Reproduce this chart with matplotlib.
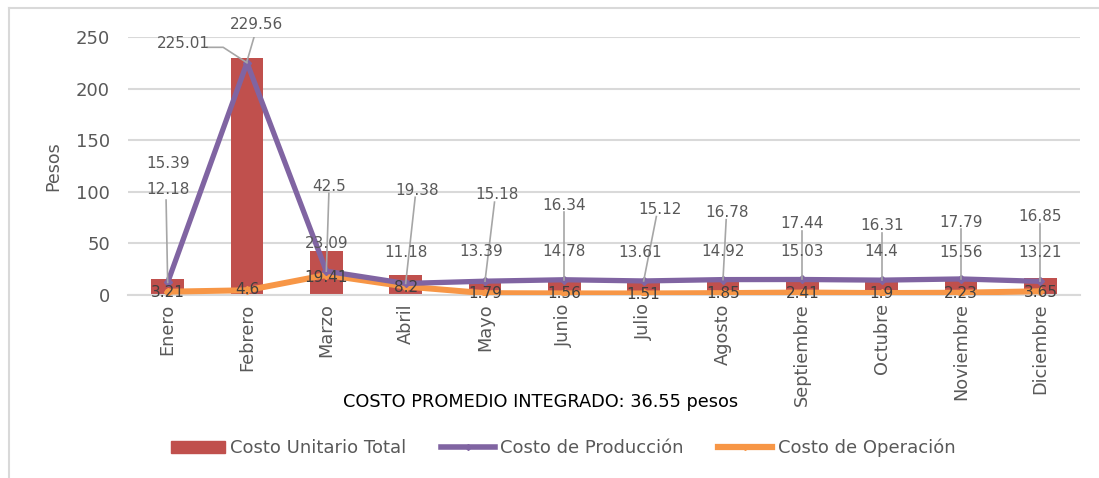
import matplotlib
matplotlib.use("Agg")
import matplotlib.pyplot as plt
from matplotlib.lines import Line2D
import numpy as np

plt.rcParams['font.family'] = ['DejaVu Sans']

months = ["Enero", "Febrero", "Marzo", "Abril", "Mayo", "Junio", "Julio",
          "Agosto", "Septiembre", "Octubre", "Noviembre", "Diciembre"]
costo_total = [15.39, 229.56, 42.5, 19.38, 15.18, 16.34, 15.12, 16.78, 17.44, 16.31, 17.79, 16.85]
costo_produccion = [12.18, 225.01, 23.09, 11.18, 13.39, 14.78, 13.61, 14.92, 15.03, 14.4, 15.56, 13.21]
costo_operacion = [3.21, 4.6, 19.41, 8.2, 1.79, 1.56, 1.51, 1.85, 2.41, 1.9, 2.23, 3.65]
yticks = [0, 50, 100, 150, 200, 250]
title_text = "COSTO PROMEDIO INTEGRADO: 36.55 pesos"

# label layout (x offset in category units, y position in data units)
total_lbl = [(0.0, 127), (0.12, 262), (0.04, 105.6), (0.15, 101.7), (0.15, 97), (0.0, 87),
             (0.2, 83), (0.05, 80), (0.0, 69), (0.0, 67), (0.0, 70.7), (0.0, 75.6)]
prod_lbl = [(0.0, 102), (-0.8, 244), (0.0, 50), (0.0, 41), (-0.05, 41.7), (0.0, 42.6),
            (-0.05, 41.5), (0.0, 42.2), (0.0, 42.2), (0.0, 42.2), (0.0, 41.5), (0.0, 41.5)]
oper_lbl_y = [2.5, 5.5, 17.3, 7.5, 1.5, 1.0, 0.5, 1.5, 1.0, 1.0, 1.0, 2.0]

W, H = 1099, 478
fig = plt.figure(figsize=(W / 100, H / 100), dpi=100)
ax = fig.add_axes([128 / W, 1 - 295 / H, (1080 - 128) / W, (295 - 37) / H])

x = np.arange(len(months))
bar_c = "#C0504D"
prod_c = "#8064A2"
oper_c = "#F79646"
txt_c = "#595959"

ax.bar(x, costo_total, width=0.41, color=bar_c, zorder=2)
ax.plot(x, costo_produccion, color=prod_c, lw=3.8, marker="D", ms=4, zorder=4,
        solid_capstyle="round")
ax.plot(x, costo_operacion, color=oper_c, lw=4.3, marker="D", ms=4, zorder=3,
        solid_capstyle="round")

ax.set_xlim(-0.5, len(months) - 0.5)
ax.set_ylim(0, 250)
ax.set_yticks(yticks)
ax.yaxis.grid(True, color="#D9D9D9", lw=1.5, zorder=0)
ax.set_axisbelow(True)
for s in ["top", "right", "left"]:
    ax.spines[s].set_visible(False)
ax.spines["bottom"].set_color("#D9D9D9")
ax.spines["bottom"].set_linewidth(1.5)
ax.tick_params(axis="both", length=0, colors=txt_c)
ax.tick_params(axis="y", labelsize=13, pad=13)
ax.set_xticks(x)
ax.set_xticklabels(months, rotation=90, fontsize=12.8, color=txt_c)
ax.tick_params(axis="x", pad=6)
ax.set_ylabel("Pesos", fontsize=12.5, color=txt_c, labelpad=10)

# data labels
for i in range(len(months)):
    dx, ty = total_lbl[i]
    ax.text(x[i] + dx, ty, f"{costo_total[i]:g}", ha="center", va="center",
            fontsize=11, color=txt_c, zorder=6)
    pdx, py = prod_lbl[i]
    ax.text(x[i] + pdx, py, f"{costo_produccion[i]:g}", ha="center", va="center",
            fontsize=11, color=txt_c, zorder=6)
    ax.text(x[i], oper_lbl_y[i], f"{costo_operacion[i]:g}", ha="center", va="center",
            fontsize=11, color="#404040", zorder=6)
    # leader lines
    if i == 1:
        ax.plot([x[i], x[i] + dx * 0.9], [costo_total[i] - 3, ty - 7], color="#A6A6A6", lw=1.2, zorder=5)
        ax.plot([x[i], x[i] - 0.3, x[i] - 0.5], [costo_produccion[i], 240, 240], color="#A6A6A6", lw=1.2, zorder=5)
    elif i == 0:
        ax.plot([x[i], x[i] - 0.02], [costo_produccion[i], py - 10], color="#A6A6A6", lw=1.2, zorder=5)
    else:
        ax.plot([x[i], x[i] + dx * 0.8], [costo_produccion[i], ty - 7], color="#A6A6A6", lw=1.2, zorder=5)

# subtitle
fig.text(541 / W, 1 - 402 / H, title_text, ha="center", va="center", fontsize=12.8, color="#000000")

# legend
handles = [
    plt.Rectangle((0, 0), 1, 1, color=bar_c),
    Line2D([0], [0], color=prod_c, lw=4, marker="D", ms=3),
    Line2D([0], [0], color=oper_c, lw=4.5, marker="D", ms=3),
]
labels = ["Costo Unitario Total", "Costo de Producción", "Costo de Operación"]
fig.legend(handles, labels, loc="center", bbox_to_anchor=(563 / W, 1 - 448 / H), ncol=3,
           frameon=False, fontsize=13, labelcolor=txt_c, handlelength=3.0,
           handletextpad=0.3, columnspacing=1.9)

# outer frame (top and left edges)
fig.add_artist(Line2D([9 / W, 9 / W], [0, 1 - 8 / H], color="#D9D9D9", lw=1.5))
fig.add_artist(Line2D([9 / W, 1], [1 - 8 / H, 1 - 8 / H], color="#D9D9D9", lw=1.5))

fig.savefig("out.png", dpi=100)
